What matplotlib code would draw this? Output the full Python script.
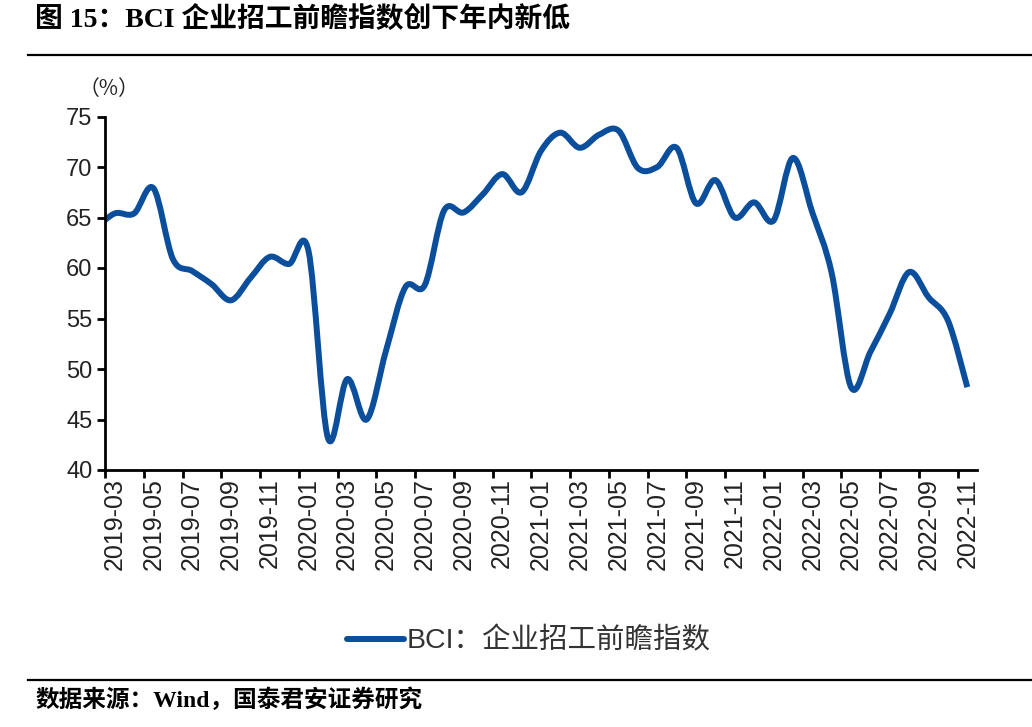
import matplotlib
matplotlib.use('Agg')
import matplotlib.pyplot as plt
import numpy as np
from matplotlib.path import Path
from matplotlib.patches import PathPatch
from matplotlib.lines import Line2D
from matplotlib.font_manager import FontProperties

# monthly BCI recruitment index, first value sits just left of the axis
months = ['2019-02', '2019-03', '2019-04', '2019-05', '2019-06', '2019-07', '2019-08',
          '2019-09', '2019-10', '2019-11', '2019-12', '2020-01', '2020-02', '2020-03',
          '2020-04', '2020-05', '2020-06', '2020-07', '2020-08', '2020-09', '2020-10',
          '2020-11', '2020-12', '2021-01', '2021-02', '2021-03', '2021-04', '2021-05',
          '2021-06', '2021-07', '2021-08', '2021-09', '2021-10', '2021-11', '2021-12',
          '2022-01', '2022-02', '2022-03', '2022-04', '2022-05', '2022-06', '2022-07',
          '2022-08', '2022-09', '2022-10', '2022-11']
bci = [63.9, 65.4, 65.4, 67.9, 60.9, 59.7, 58.4,
       56.8, 59.0, 61.1, 60.4, 61.7, 43.2, 49.0,
       45.0, 51.8, 58.1, 58.3, 65.7, 65.5, 67.3,
       69.3, 67.5, 71.6, 73.4, 71.9, 73.2, 73.6,
       69.9, 70.0, 71.9, 66.4, 68.7, 65.0, 66.5,
       64.7, 70.9, 65.5, 59.5, 48.2, 51.7, 55.5,
       59.6, 57.1, 54.8, 48.2]
tick_labels = months[1::2]
yticks = [40, 45, 50, 55, 60, 65, 70, 75]

BLUE = '#0B4F9C'
MIXED_SANS = ['Liberation Sans', 'Noto Sans CJK SC']
MIXED_SERIF = ['Liberation Serif', 'Noto Sans CJK SC']


def smooth_path(xs, ys):
    """Excel-style smoothed line: Catmull-Rom segments as cubic Beziers"""
    pts = np.column_stack([xs, ys]).astype(float)
    n = len(pts)
    verts = [pts[0]]
    codes = [Path.MOVETO]
    for i in range(n - 1):
        p0 = pts[max(i - 1, 0)]
        p1 = pts[i]
        p2 = pts[i + 1]
        p3 = pts[min(i + 2, n - 1)]
        verts += [p1 + (p2 - p0) / 6, p2 - (p3 - p1) / 6, p2]
        codes += [Path.CURVE4] * 3
    return Path(verts, codes)


fig = plt.figure(figsize=(10.32, 7.27), dpi=100)
ax = fig.add_axes([105 / 1032, 1 - 470 / 727, 872 / 1032, 353.5 / 727])

# categories sit in the middle of each month slot, ticks on the slot edges
x = np.arange(len(bci)) - 0.5
ax.add_patch(PathPatch(smooth_path(x, bci), fill=False, edgecolor=BLUE, lw=4.3,
                       joinstyle='round', capstyle='butt'))

ax.set_xlim(0, 45)
ax.set_ylim(40, 75)
ax.set_yticks(yticks)
ax.set_xticks(np.arange(0, 45, 2))
ax.set_xticks(np.arange(0.5, 45, 2), tick_labels, minor=True, rotation=90)

for side in ['top', 'right']:
    ax.spines[side].set_visible(False)
for side in ['left', 'bottom']:
    ax.spines[side].set_linewidth(2)

ax.tick_params(axis='x', which='major', length=6, width=2, direction='out', labelbottom=False)
ax.tick_params(axis='x', which='minor', length=0, pad=6, labelsize=18, labelcolor='#222222')
ax.tick_params(axis='y', length=6, width=2, direction='out', pad=3, labelsize=17,
               labelcolor='#222222')
for lab in ax.get_xticklabels(minor=True) + ax.get_yticklabels():
    lab.set_family('Liberation Sans')

fig.text(109 / 1032, 1 - 89 / 727, '（%）', size=15, family=['Noto Sans CJK SC'],
         ha='center', va='center', color='#222222')

# legend below the axis
handle = Line2D([], [], color=BLUE, lw=4.3, solid_capstyle='round')
fig.legend([handle], ['BCI：企业招工前瞻指数'], loc='center',
           bbox_to_anchor=(529 / 1032, 1 - 641 / 727), frameon=False,
           handlelength=2.0, handletextpad=0.1, labelcolor='#333333',
           prop=FontProperties(family=MIXED_SANS, size=20.5))

# title, rules and source note
fig.text(35 / 1032, 1 - 19 / 727, '图 15：BCI 企业招工前瞻指数创下年内新低',
         family=MIXED_SERIF, weight='bold', size=20, ha='left', va='center')
fig.add_artist(Line2D([28 / 1032, 1], [1 - 55 / 727] * 2, color='black', lw=1.6))
fig.add_artist(Line2D([28 / 1032, 1], [1 - 680 / 727] * 2, color='black', lw=1.6))
fig.text(35 / 1032, 1 - 700 / 727, '数据来源：Wind，国泰君安证券研究',
         family=MIXED_SERIF, weight='bold', size=17, ha='left', va='center')

fig.savefig('out.png', dpi=100)
